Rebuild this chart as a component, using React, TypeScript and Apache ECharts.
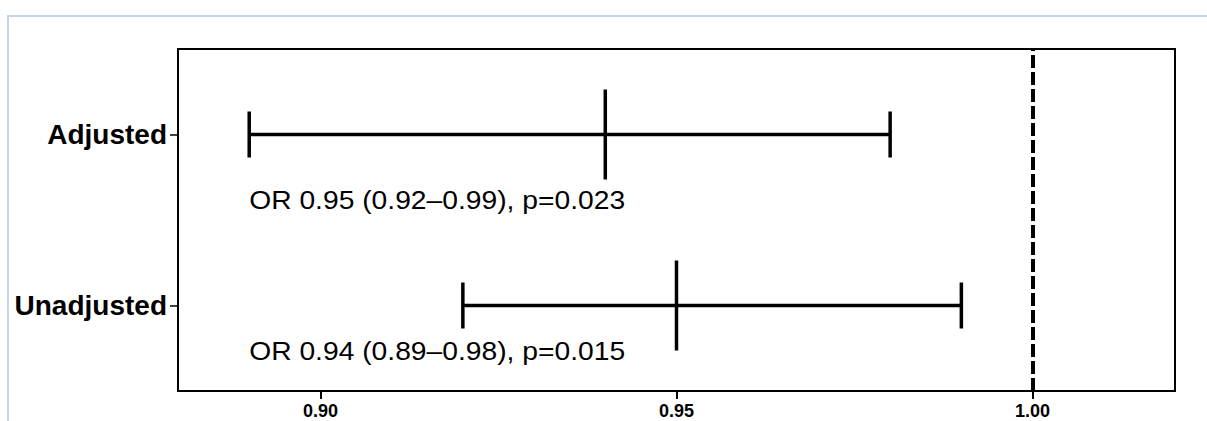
import React, { useEffect, useRef } from "react";
import * as echarts from "echarts";

// ---- data ----
const categories = ["Unadjusted", "Adjusted"];
const lowerCI = [0.92, 0.89];
const estimates = [0.95, 0.94];
const upperCI = [0.99, 0.98];
const annotations = [
  "OR 0.94 (0.89\u20130.98), p=0.015",
  "OR 0.95 (0.92\u20130.99), p=0.023",
];
const annotationX = [0.89, 0.89];
const xTicks = [0.9, 0.95, 1.0];
const referenceValue = 1.0;

export default function App() {
  const ref = useRef<HTMLDivElement>(null);

  useEffect(() => {
    if (!ref.current) return;
    const chart = echarts.init(ref.current, null, { renderer: "svg" });

    const barData = categories.map((_, i) => [i, lowerCI[i], estimates[i], upperCI[i]]);
    const textData = categories.map((_, i) => [i, annotationX[i], annotations[i]]);
    const labelDy = [46, 66];

    const option: any = {
      animation: false,
      backgroundColor: "#fff",
      graphic: [
        {
          type: "polyline",
          silent: true,
          shape: { points: [[8, 421], [8, 16], [1207, 16]] },
          style: { stroke: "#c6d5ee", lineWidth: 2, fill: "none" },
        },
      ],
      grid: {
        left: 178,
        right: 32,
        top: 49,
        bottom: 30,
        show: true,
        borderColor: "#000",
        borderWidth: 2,
      },
      xAxis: {
        type: "value",
        min: 0.88,
        max: 1.02,
        splitLine: { show: false },
        axisLine: { show: true, lineStyle: { color: "#000", width: 2 } },
        axisTick: {
          show: true,
          length: 8,
          customValues: xTicks,
          lineStyle: { color: "#000", width: 2 },
        },
        axisLabel: {
          customValues: xTicks,
          formatter: (v: number) => v.toFixed(2),
          color: "#000",
          fontWeight: "bold",
          fontSize: 18,
          fontFamily: "Liberation Sans, Arial, sans-serif",
          margin: 11,
        },
      },
      yAxis: {
        type: "category",
        data: categories,
        axisLine: { show: true, lineStyle: { color: "#000", width: 2 } },
        axisTick: {
          show: true,
          alignWithLabel: true,
          length: 8,
          lineStyle: { color: "#000", width: 1.5 },
        },
        splitLine: { show: false },
        axisLabel: {
          color: "#000",
          fontWeight: "bold",
          fontSize: 28,
          fontFamily: "Liberation Sans, Arial, sans-serif",
          margin: 11,
        },
      },
      series: [
        {
          type: "custom",
          name: "CI",
          data: barData,
          encode: { x: [1, 2, 3], y: 0 },
          renderItem: (params: any, api: any) => {
            const idx = api.value(0);
            const lo = api.coord([api.value(1), idx]);
            const est = api.coord([api.value(2), idx]);
            const hi = api.coord([api.value(3), idx]);
            const capH = 23;
            const estH = 45;
            const style = { stroke: "#000", lineWidth: 3.5, fill: "none" };
            return {
              type: "group",
              children: [
                { type: "line", shape: { x1: lo[0], y1: lo[1], x2: hi[0], y2: hi[1] }, style },
                { type: "line", shape: { x1: lo[0], y1: lo[1] - capH, x2: lo[0], y2: lo[1] + capH }, style },
                { type: "line", shape: { x1: hi[0], y1: hi[1] - capH, x2: hi[0], y2: hi[1] + capH }, style },
                { type: "line", shape: { x1: est[0], y1: est[1] - estH, x2: est[0], y2: est[1] + estH }, style },
              ],
            };
          },
          markLine: {
            silent: true,
            symbol: ["none", "none"],
            label: { show: false },
            lineStyle: { color: "#000", width: 4, type: [13, 4] },
            data: [{ xAxis: referenceValue }],
          },
          z: 3,
        },
        {
          type: "custom",
          name: "Annotations",
          data: textData,
          encode: { x: 1, y: 0 },
          renderItem: (params: any, api: any) => {
            const idx = api.value(0);
            const p = api.coord([api.value(1), idx]);
            return {
              type: "text",
              x: p[0],
              y: p[1] + labelDy[idx],
              scaleX: 1.13,
              style: {
                text: annotations[idx],
                fontSize: 25,
                fontFamily: "Liberation Sans, Arial, sans-serif",
                fill: "#000",
                align: "left",
                verticalAlign: "middle",
              },
            };
          },
          z: 4,
        },
      ],
    };

    chart.setOption(option);
    return () => chart.dispose();
  }, []);

  return (
    <div
      ref={ref}
      style={{ position: "fixed", left: 0, top: 0, width: 1207, height: 421 }}
    />
  );
}
